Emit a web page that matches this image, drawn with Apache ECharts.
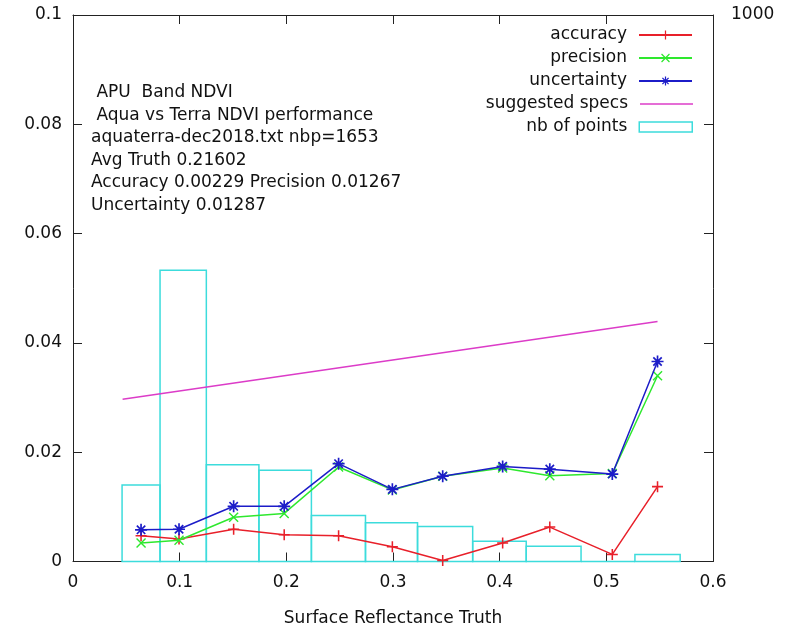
<!DOCTYPE html>
<html>
<head>
<meta charset="utf-8">
<script src="https://cdn.jsdelivr.net/npm/echarts@6/dist/echarts.min.js"></script>
<style>
html,body{margin:0;padding:0;background:#fff;}
#chart{width:802px;height:630px;}
</style>
</head>
<body>
<div id="chart"></div>
<script>
// ---- data ----
var truthX      = [0.0638, 0.0994, 0.1506, 0.198, 0.249, 0.2994, 0.3466, 0.4028, 0.447, 0.5056, 0.548];
var accuracy    = [0.0047, 0.0041, 0.0059, 0.0049, 0.0047, 0.0027, 0.0002, 0.0034, 0.0063, 0.0013, 0.0137];
var precision   = [0.0034, 0.0039, 0.0081, 0.0088, 0.0173, 0.0131, 0.0156, 0.0171, 0.0157, 0.0161, 0.0340];
var uncertainty = [0.0058, 0.0059, 0.0101, 0.0101, 0.0179, 0.0132, 0.0156, 0.0174, 0.0169, 0.0160, 0.0366];
var nbPoints    = [140, 533, 177, 167, 84, 71, 64, 37, 28, 0, 13];
var specX       = [0.0465, 0.548];
var specY       = [0.0297, 0.0439];
var infoLines   = [
  ' APU  Band NDVI',
  ' Aqua vs Terra NDVI performance',
  'aquaterra-dec2018.txt nbp=1653',
  'Avg Truth 0.21602',
  'Accuracy 0.00229 Precision 0.01267',
  'Uncertainty 0.01287'
];

var FONT = 'DejaVu Sans';
var C_RED = '#e8202a', C_GREEN = '#2ee82e', C_BLUE = '#1c1cc8', C_MAG = '#dc3cc8', C_CYAN = '#3cdcdc';

function pairs(xs, ys){ return xs.map(function(x,i){ return [x, ys[i]]; }); }

var PLUS  = 'path://M4.3 0h1.4v10h-1.4z M0 4.3h10v1.4h-10z';
var CROSS = 'path://M0 1L1 0L10 9L9 10Z M9 0L10 1L1 10L0 9Z';
var STAR  = 'path://M4.3 0h1.4v10h-1.4z M0 4.3h10v1.4h-10z M1 2L2 1L9 8L8 9Z M8 1L9 2L2 9L1 8Z';

var chart = echarts.init(document.getElementById('chart'), null, {renderer:'canvas'});

function axLine(){ return {show:true, onZero:false, lineStyle:{color:'#222', width:1}}; }
function tickIn(){ return {show:true, inside:true, length:9, lineStyle:{color:'#222', width:1}}; }
function lbl(extra){
  return Object.assign({fontFamily:FONT, fontSize:17, color:'#111'}, extra);
}

function legendAt(name, top, opts){
  return Object.assign({
    data:[name], right:109, top:top, orient:'vertical', align:'right', padding:0,
    itemWidth:53, itemHeight:11, itemGap:0,
    textStyle:{fontFamily:FONT, fontSize:17, color:'#111', lineHeight:20, padding:[0,7,0,0]},
    selectedMode:false
  }, opts || {});
}

var option = {
  backgroundColor:'#fff',
  animation:false,
  title:{
    text: infoLines.join('\n'), left:91, top:81.5, padding:0,
    textStyle:{fontFamily:FONT, fontSize:17, fontWeight:'normal', color:'#111', lineHeight:22.5}
  },
  legend:[
    legendAt('accuracy', 25),
    legendAt('precision', 48),
    legendAt('uncertainty', 71),
    legendAt('suggested specs', 94, {data:[{name:'suggested specs', icon:'rect'}], itemHeight:1.5,
       itemStyle:{color:C_MAG}}),
    legendAt('nb of points', 117, {data:[{name:'nb of points', icon:'rect'}], itemHeight:10,
       itemStyle:{color:'#fff', borderColor:C_CYAN, borderWidth:1.5}})
  ],
  grid:{left:73, right:89, top:15, bottom:68.5, containLabel:false, outerBoundsMode:'none'},
  xAxis:[
    {type:'value', position:'bottom', min:0, max:0.6, interval:0.1,
     axisLine:axLine(), axisTick:tickIn(), splitLine:{show:false},
     axisLabel:lbl({margin:13}),
     name:'Surface Reflectance Truth', nameLocation:'middle', nameGap:49,
     nameTextStyle:{fontFamily:FONT, fontSize:17, color:'#111'}},
    {type:'value', position:'top', min:0, max:0.6, interval:0.1,
     axisLine:axLine(), axisTick:tickIn(), splitLine:{show:false}, axisLabel:{show:false}}
  ],
  yAxis:[
    {type:'value', position:'left', min:0, max:0.1, interval:0.02,
     axisLine:axLine(), axisTick:tickIn(), splitLine:{show:false},
     axisLabel:lbl({margin:11, padding:[6,0,0,0], formatter:function(v){ return String(+v.toFixed(4)); }})},
    {type:'value', position:'right', min:0, max:0.1, interval:0.02,
     axisLine:axLine(), axisTick:tickIn(), splitLine:{show:false}, axisLabel:{show:false}},
    {type:'value', position:'right', min:0, max:1000, interval:1000,
     axisLine:{show:false, onZero:false}, axisTick:{show:false}, splitLine:{show:false},
     axisLabel:lbl({margin:18, padding:[6,0,0,0], formatter:function(v){ return v === 1000 ? '1000' : ''; }})}
  ],
  series:[
    {
      name:'nb of points', type:'custom', xAxisIndex:0, yAxisIndex:2, z:1,
      itemStyle:{color:'#fff', borderColor:C_CYAN, borderWidth:1.5},
      data: pairs(truthX, nbPoints),
      renderItem:function(params, api){
        var i = params.dataIndex, n = truthX.length;
        var left = i === 0 ? truthX[0] - (truthX[1]-truthX[0])/2 : (truthX[i-1]+truthX[i])/2;
        var right = i === n-1 ? truthX[n-1] + (truthX[n-1]-truthX[n-2])/2 : (truthX[i]+truthX[i+1])/2;
        var p0 = api.coord([left, api.value(1)]);
        var p1 = api.coord([right, 0]);
        return {type:'rect', shape:{x:p0[0], y:p0[1], width:p1[0]-p0[0], height:p1[1]-p0[1]},
                style:{fill:null, stroke:C_CYAN, lineWidth:1.5}};
      }
    },
    {
      name:'suggested specs', type:'line', xAxisIndex:0, yAxisIndex:0, z:2,
      data: pairs(specX, specY), showSymbol:false, symbol:'none',
      lineStyle:{color:C_MAG, width:1.5}, itemStyle:{color:C_MAG}
    },
    {
      name:'accuracy', type:'line', xAxisIndex:0, yAxisIndex:0, z:3,
      data: pairs(truthX, accuracy), symbol:PLUS, symbolSize:11,
      lineStyle:{color:C_RED, width:1.5}, itemStyle:{color:C_RED}
    },
    {
      name:'precision', type:'line', xAxisIndex:0, yAxisIndex:0, z:4,
      data: pairs(truthX, precision), symbol:CROSS, symbolSize:10,
      lineStyle:{color:C_GREEN, width:1.5}, itemStyle:{color:C_GREEN}
    },
    {
      name:'uncertainty', type:'line', xAxisIndex:0, yAxisIndex:0, z:5,
      data: pairs(truthX, uncertainty), symbol:STAR, symbolSize:12,
      lineStyle:{color:C_BLUE, width:1.5}, itemStyle:{color:C_BLUE}
    }
  ]
};
chart.setOption(option);
</script>
</body>
</html>
